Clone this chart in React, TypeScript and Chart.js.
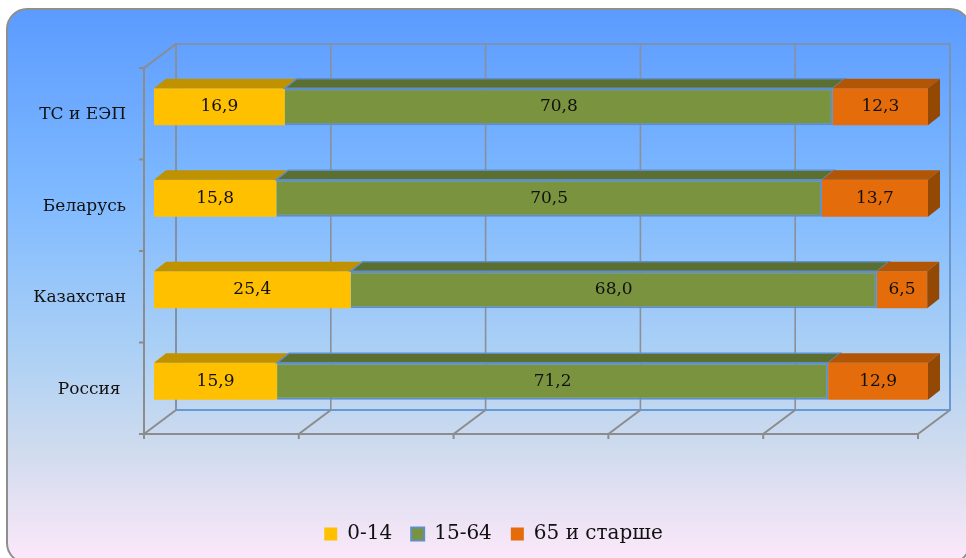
import React, { useEffect, useRef } from "react";
import { Chart, registerables } from "chart.js";

Chart.register(...registerables);

const categories = ["ТС и ЕЭП", "Беларусь", "Казахстан", "Россия "];
const age0to14 = [16.9, 15.8, 25.4, 15.9];
const age15to64 = [70.8, 70.5, 68.0, 71.2];
const age65plus = [12.3, 13.7, 6.5, 12.9];

const FONT = "'DejaVu Serif', serif";
const frontDx = -10, frontDy = 7, backDx = 22, backDy = -17, barDx = 12, barDy = -9.5;

const scene = {
  id: "scene",
  beforeDraw(chart: any) {
    const { ctx, width, height } = chart;
    const g = ctx.createLinearGradient(0, 9, 0, 558);
    g.addColorStop(0, "#5B9BFF");
    g.addColorStop(0.35, "#80BAFF");
    g.addColorStop(0.62, "#ABD0F5");
    g.addColorStop(0.8, "#CFDBEE");
    g.addColorStop(1, "#FBE8F9");
    ctx.save();
    ctx.fillStyle = "#fff";
    ctx.fillRect(0, 0, width, height);
    ctx.beginPath();
    ctx.roundRect(7, 9, width - 7 + 4, height - 9 + 5, 20);
    ctx.fillStyle = g;
    ctx.fill();
    ctx.strokeStyle = "#8F8F8F";
    ctx.lineWidth = 2;
    ctx.stroke();
    ctx.restore();
  },
  beforeDatasetsDraw(chart: any) {
    const { ctx, chartArea: a, scales } = chart;
    const x = scales.x;
    const ticks = x.ticks.map((t: any) => x.getPixelForValue(t.value));
    ctx.save();
    // back wall
    ctx.lineWidth = 2;
    const wall = ctx.createLinearGradient(0, a.top + backDy, 0, a.bottom + backDy);
    wall.addColorStop(0, "#7A92B4");
    wall.addColorStop(1, "#6699D6");
    ctx.strokeStyle = wall;
    ctx.strokeRect(a.left + backDx, a.top + backDy, a.right - a.left, a.bottom - a.top);
    ctx.strokeStyle = "#8A8F99";
    ctx.lineWidth = 1.6;
    ctx.beginPath();
    ticks.forEach((px: number, i: number) => {
      if (i > 0 && i < ticks.length - 1) {
        ctx.moveTo(px + backDx, a.top + backDy);
        ctx.lineTo(px + backDx, a.bottom + backDy);
      }
    });
    ctx.moveTo(a.left + backDx, a.top + backDy);
    ctx.lineTo(a.left + backDx, a.bottom + backDy);
    ctx.stroke();
    // floor and front axes
    ctx.strokeStyle = "#8C8C8C";
    ctx.lineWidth = 2;
    ctx.beginPath();
    ticks.forEach((px: number) => {
      ctx.moveTo(px + frontDx, a.bottom + frontDy);
      ctx.lineTo(px + backDx, a.bottom + backDy);
      ctx.moveTo(px + frontDx, a.bottom + frontDy);
      ctx.lineTo(px + frontDx, a.bottom + frontDy + 5);
    });
    ctx.moveTo(a.left + frontDx, a.top + frontDy);
    ctx.lineTo(a.left + backDx, a.top + backDy);
    ctx.moveTo(a.left + frontDx, a.top + frontDy);
    ctx.lineTo(a.left + frontDx, a.bottom + frontDy);
    ctx.lineTo(a.right + frontDx, a.bottom + frontDy);
    const band = (a.bottom - a.top) / categories.length;
    for (let i = 0; i <= categories.length; i++) {
      const y = a.top + frontDy + band * i;
      ctx.moveTo(a.left + frontDx - 5, y);
      ctx.lineTo(a.left + frontDx, y);
    }
    ctx.stroke();
    ctx.restore();
  },
  afterDatasetsDraw(chart: any) {
    const { ctx } = chart;
    ctx.save();
    chart.data.datasets.forEach((ds: any, di: number) => {
      const meta = chart.getDatasetMeta(di);
      meta.data.forEach((bar: any) => {
        const left = Math.min(bar.x, bar.base), right = Math.max(bar.x, bar.base);
        const top = bar.y - bar.height / 2, bottom = bar.y + bar.height / 2;
        ctx.beginPath();
        ctx.moveTo(left, top);
        ctx.lineTo(left + barDx, top + barDy);
        ctx.lineTo(right + barDx, top + barDy);
        ctx.lineTo(right, top);
        ctx.closePath();
        ctx.fillStyle = ds.topColor;
        ctx.fill();
        if (ds.edgeColor) {
          ctx.strokeStyle = ds.edgeColor;
          ctx.lineWidth = 1.5;
          ctx.stroke();
        }
        if (di === chart.data.datasets.length - 1) {
          ctx.beginPath();
          ctx.moveTo(right, top);
          ctx.lineTo(right + barDx, top + barDy);
          ctx.lineTo(right + barDx, bottom + barDy);
          ctx.lineTo(right, bottom);
          ctx.closePath();
          ctx.fillStyle = ds.sideColor;
          ctx.fill();
        }
      });
    });
    ctx.font = "17px " + FONT;
    ctx.fillStyle = "#111";
    ctx.textAlign = "center";
    ctx.textBaseline = "middle";
    chart.data.datasets.forEach((ds: any, di: number) => {
      chart.getDatasetMeta(di).data.forEach((bar: any, i: number) => {
        ctx.fillText(ds.data[i].toFixed(1).replace(".", ","), (bar.x + bar.base) / 2, bar.y);
      });
    });
    ctx.restore();
  },
};

export default function App() {
  const ref = useRef<HTMLCanvasElement>(null);
  useEffect(() => {
    const chart = new Chart(ref.current!, {
      type: "bar",
      data: {
        labels: categories,
        datasets: [
          { label: "0-14", data: age0to14, backgroundColor: "#FFC000", borderColor: "#FFC000", borderWidth: 0, topColor: "#C09200" } as any,
          { label: "15-64", data: age15to64, backgroundColor: "#7A933E", borderColor: "#5F8FC8", borderWidth: 2, topColor: "#5B6F30", edgeColor: "#5F8FC8" } as any,
          { label: "65 и старше", data: age65plus, backgroundColor: "#E46C0A", borderColor: "#E46C0A", borderWidth: 0, topColor: "#B25505", sideColor: "#934803" } as any,
        ],
      },
      options: {
        indexAxis: "y",
        responsive: false,
        animation: false,
        layout: { padding: { left: 21, right: 0, top: 61, bottom: 4 } },
        datasets: { bar: { categoryPercentage: 1, barPercentage: 0.405 } },
        scales: {
          x: {
            stacked: true,
            min: 0,
            max: 100,
            ticks: { display: false, stepSize: 20 },
            grid: { display: false, drawTicks: false },
            border: { display: false },
            afterFit: (s: any) => { s.height = 78; },
          },
          y: {
            stacked: true,
            ticks: { font: { family: FONT, size: 17 }, color: "#111", padding: 28, labelOffset: 8 },
            grid: { display: false, drawTicks: false },
            border: { display: false },
            afterFit: (s: any) => { s.width = 133; },
          },
          pad: {
            type: "linear",
            axis: "y",
            position: "right",
            ticks: { display: false },
            grid: { display: false, drawTicks: false },
            border: { display: false },
            afterFit: (s: any) => { s.width = 38; },
          },
        },
        plugins: {
          tooltip: { enabled: false },
          legend: {
            position: "bottom",
            labels: {
              boxWidth: 13,
              boxHeight: 13,
              padding: 19,
              color: "#111",
              font: { family: FONT, size: 20 },
            },
          },
        },
      } as any,
      plugins: [scene],
    });
    return () => chart.destroy();
  }, []);
  return (
    <div style={{ position: "fixed", left: 0, top: 0, width: 966, height: 558 }}>
      <canvas ref={ref} width={966} height={558} style={{ display: "block" }} />
    </div>
  );
}
